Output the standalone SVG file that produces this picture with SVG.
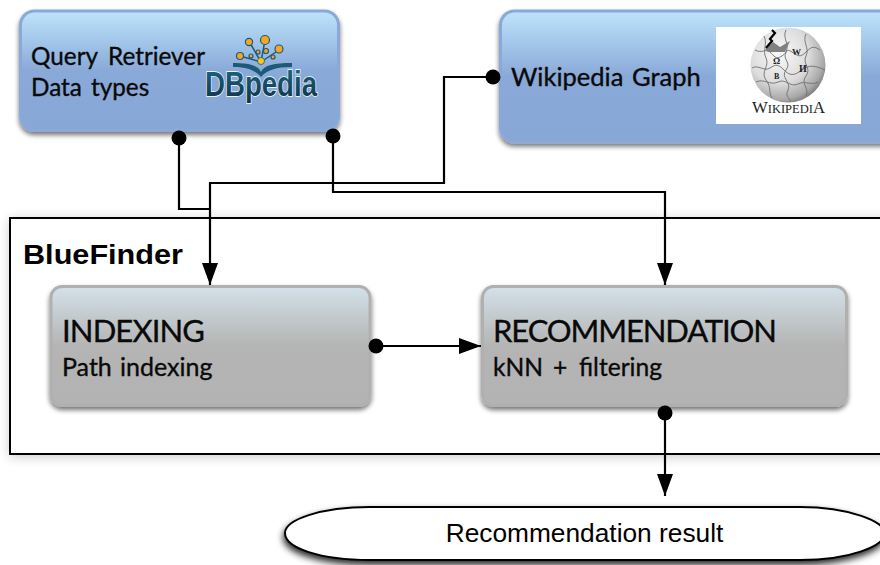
<svg xmlns="http://www.w3.org/2000/svg" width="880" height="565" viewBox="0 0 880 565">
<defs>
<linearGradient id="blue" x1="0" y1="0" x2="0" y2="1"><stop offset="0" stop-color="#bde4fb"/><stop offset="0.5" stop-color="#89a9d8"/><stop offset="1" stop-color="#87a7d7"/></linearGradient>
<linearGradient id="grey" x1="0" y1="0" x2="0" y2="1"><stop offset="0" stop-color="#d3e1e9"/><stop offset="0.5" stop-color="#b4b4b4"/><stop offset="1" stop-color="#b3b3b3"/></linearGradient>
<linearGradient id="dbt" x1="0" y1="0" x2="0" y2="1"><stop offset="0" stop-color="#1c6a86"/><stop offset="1" stop-color="#0e3346"/></linearGradient>
<radialGradient id="globe" cx="0.38" cy="0.35" r="0.72"><stop offset="0" stop-color="#fafafa"/><stop offset="0.55" stop-color="#dcdcdc"/><stop offset="0.85" stop-color="#a8a8a8"/><stop offset="1" stop-color="#6e6e6e"/></radialGradient>
<filter id="sh" x="-10%" y="-10%" width="120%" height="125%"><feGaussianBlur in="SourceAlpha" stdDeviation="2.5"/><feOffset dy="3"/><feComponentTransfer><feFuncA type="linear" slope="0.55"/></feComponentTransfer><feMerge><feMergeNode/><feMergeNode in="SourceGraphic"/></feMerge></filter>
<filter id="sh2" x="-5%" y="-5%" width="110%" height="115%"><feGaussianBlur in="SourceAlpha" stdDeviation="6"/><feOffset dy="2"/><feComponentTransfer><feFuncA type="linear" slope="0.2"/></feComponentTransfer><feMerge><feMergeNode/><feMergeNode in="SourceGraphic"/></feMerge></filter>
<filter id="sh3" x="-5%" y="-20%" width="110%" height="150%"><feGaussianBlur in="SourceAlpha" stdDeviation="3.5"/><feOffset dx="-1" dy="4"/><feComponentTransfer><feFuncA type="linear" slope="0.85"/></feComponentTransfer><feMerge><feMergeNode/><feMergeNode in="SourceGraphic"/></feMerge></filter>
<marker id="arr" markerUnits="userSpaceOnUse" markerWidth="22" markerHeight="16" refX="22" refY="8" orient="auto" viewBox="0 0 22 16"><path d="M0 0L22 8L0 16Z" fill="#000"/></marker>
</defs>
<style>
.n{fill:url(#blue);stroke:#8aa9d8;stroke-width:3;filter:url(#sh)}
.g{fill:url(#grey);stroke:#b0b0b0;stroke-width:3;filter:url(#sh)}
.t{font-family:"Lato","Noto Sans",sans-serif;fill:#0a0a0a;stroke:#0a0a0a;stroke-width:0.35}
.c{fill:none;stroke:#000;stroke-width:2.2}
.d{fill:#000}
.dot{fill:#f5a623;stroke:#1d5a78;stroke-width:1.2}
.y{fill:#f7c81e;stroke:#1d5a78;stroke-width:0.8}
.p{fill:none;stroke:#6f6f6f;stroke-width:0.9}
</style>
<rect width="880" height="565" fill="#fff"/>
<g id="bluefinder">
<rect x="10" y="218" width="890" height="236" fill="#fff" stroke="#000" stroke-width="2" filter="url(#sh2)"/>
<text x="23" y="264" font-family="Liberation Sans, Arial, sans-serif" font-weight="700" font-size="28" fill="#000" textLength="160" lengthAdjust="spacingAndGlyphs">BlueFinder</text>
</g>
<g id="dbpedia-node">
<rect class="n" x="20.5" y="11" width="318" height="119.5" rx="14"/>
<text class="t" font-size="24.3" y="65"><tspan x="31">Query</tspan> <tspan x="108">Retriever</tspan></text>
<text class="t" font-size="24.3" y="96"><tspan x="31">Data</tspan> <tspan x="91">types</tspan></text>
<g fill="none" stroke="#1d5a78" stroke-width="1.5"><path d="M261 62L250 43M261 62L265 40M261 62L279 50M261 62L240 56"/></g>
<circle class="dot" cx="249" cy="42" r="3.6"/><circle class="dot" cx="265" cy="40" r="4.5"/><circle class="dot" cx="279" cy="49" r="4"/><circle class="dot" cx="240" cy="56" r="3.5"/><circle class="dot" cx="258" cy="52" r="2"/><circle class="dot" cx="266" cy="51" r="2.5"/><circle class="dot" cx="251" cy="56" r="2"/><circle class="dot" cx="273" cy="57" r="2"/><circle class="y" cx="261" cy="61" r="3.5"/>
<path d="M233 63C248 63 258 65 261 72C264 65 274 63 292 63L292 67C276 67 267 70 261 77C255 70 246 67 233 67Z" fill="#1d5a78"/>
<text x="205" y="96" font-family="Liberation Sans, Arial, sans-serif" font-weight="700" font-size="35" fill="url(#dbt)" stroke="#fff" stroke-width="1.4" paint-order="stroke" textLength="112" lengthAdjust="spacingAndGlyphs">DBpedia</text>
</g>
<g id="wikipedia-node">
<rect class="n" x="500.5" y="11" width="400" height="131" rx="14"/>
<text class="t" font-size="25.5" y="86"><tspan x="511">Wikipedia</tspan> <tspan x="632">Graph</tspan></text>
<rect x="716" y="27" width="145" height="97" fill="#fff"/>
<circle cx="788" cy="65" r="37.5" fill="url(#globe)"/>
<path class="p" d="M755 50C762 54 766 48 770 52S776 60 782 56S786 48 792 52S800 58 806 52S814 46 820 50M752 68C758 64 764 72 770 68S778 64 784 70S794 76 802 70S816 66 825 70M756 82C764 78 770 86 778 82S790 88 798 84S810 86 818 82M764 36C768 44 762 50 766 58S760 72 766 80S768 92 772 98M786 30C782 38 790 44 786 52S792 62 786 70S792 82 788 90S792 98 790 102M806 34C802 42 810 48 806 56S812 68 806 76S810 88 806 96"/>
<path d="M765 50L773 42L780 47L790 41L785 52L768 52Z" fill="#808080"/>
<path d="M772 30L775 33L770 39L772 41L766 48" fill="none" stroke="#000" stroke-width="2.2"/>
<g font-family="Liberation Serif, serif" fill="#222" font-weight="700"><text x="773" y="64" font-size="9">Ω</text><text x="792" y="55" font-size="9">W</text><text x="799" y="72" font-size="10">И</text><text x="774" y="79" font-size="8">B</text></g>
<text x="752" y="113" font-family="Liberation Serif, serif" font-size="12" fill="#222" textLength="73" lengthAdjust="spacingAndGlyphs"><tspan font-size="16">W</tspan>IKIPEDI<tspan font-size="16">A</tspan></text>
</g>
<g id="indexing-node">
<rect class="g" x="51" y="286.5" width="319" height="119" rx="11"/>
<text class="t" x="62" y="342" font-size="31" textLength="143">INDEXING</text>
<text class="t" font-size="25" y="376"><tspan x="62">Path</tspan> <tspan x="120">indexing</tspan></text>
</g>
<g id="recommendation-node">
<rect class="g" x="482.5" y="286.5" width="364" height="119" rx="11"/>
<text class="t" x="493" y="342" font-size="31" textLength="284">RECOMMENDATION</text>
<text class="t" font-size="24.6" y="376"><tspan x="493">kNN</tspan> <tspan x="553">+</tspan> <tspan x="579">filtering</tspan></text>
</g>
<g id="result-node">
<path d="M370 507H800C850 507 885 522 885 533C885 546 850 560 800 560H370C320 560 285 548 285 533C285 520 320 507 370 507Z" fill="#fff" stroke="#000" stroke-width="2" filter="url(#sh3)"/>
<text x="584.5" y="542" text-anchor="middle" font-family="Liberation Sans, Arial, sans-serif" font-size="26.3" fill="#000">Recommendation result</text>
</g>
<g id="connectors">
<path class="c" d="M179 138V209H210"/>
<path class="c" d="M333 136V192H665V285" marker-end="url(#arr)"/>
<path class="c" d="M492 77H444V183H210V285" marker-end="url(#arr)"/>
<path class="c" d="M376 346H481" marker-end="url(#arr)"/>
<path class="c" d="M665 413V496" marker-end="url(#arr)"/>
<circle class="d" cx="179" cy="138" r="7.5"/>
<circle class="d" cx="333" cy="136" r="7.5"/>
<circle class="d" cx="493" cy="77" r="7.5"/>
<circle class="d" cx="376" cy="346" r="7.5"/>
<circle class="d" cx="665" cy="413" r="7.5"/>
</g>
</svg>
